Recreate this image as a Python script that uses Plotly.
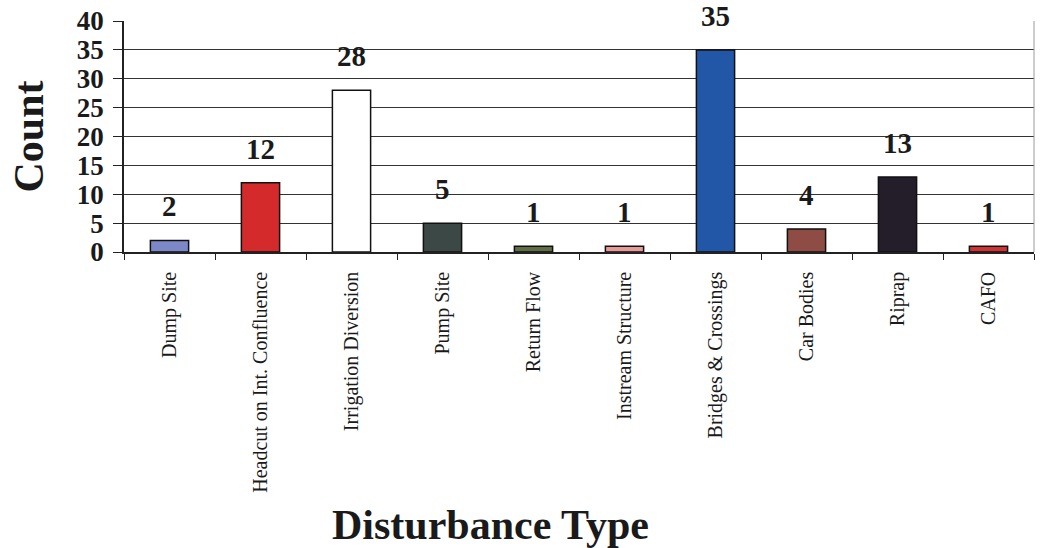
import plotly.graph_objects as go

categories = ["Dump Site", "Headcut on Int. Confluence", "Irrigation Diversion",
              "Pump Site", "Return Flow", "Instream Structure",
              "Bridges & Crossings", "Car Bodies", "Riprap", "CAFO"]
counts = [2, 12, 28, 5, 1, 1, 35, 4, 13, 1]
bar_colors = ["#7d88c8", "#d42a2c", "#ffffff", "#3c4846", "#5f6e45",
              "#e8999a", "#2257a8", "#8e4c45", "#241e2a", "#cf3333"]
y_ticks = [0, 5, 10, 15, 20, 25, 30, 35, 40]

SERIF = "Liberation Serif, Times New Roman, serif"

fig = go.Figure(go.Bar(
    x=categories,
    y=counts,
    width=0.42,
    marker=dict(color=bar_colors, line=dict(color="#111111", width=1.5)),
    hoverinfo="x+y",
))

# value labels above each bar
for cat, val in zip(categories, counts):
    fig.add_annotation(x=cat, y=val, text=f"<b>{val}</b>", showarrow=False,
                       yanchor="bottom", yshift=16,
                       font=dict(family=SERIF, size=29, color="#1a1a1a"))

# axis titles
fig.add_annotation(text="<b>Count</b>", xref="paper", yref="paper",
                   x=0, y=0.5, xanchor="center", yanchor="middle",
                   xshift=-96, textangle=-90, showarrow=False,
                   font=dict(family=SERIF, size=42, color="#1a1a1a"))
fig.add_annotation(text="<b>Disturbance Type</b>", xref="paper", yref="paper",
                   x=0, y=0, xanchor="center", yanchor="middle",
                   xshift=366, yshift=-273, showarrow=False,
                   font=dict(family=SERIF, size=42, color="#1a1a1a"))

fig.update_layout(
    width=1045, height=548,
    margin=dict(l=124, r=11, t=21, b=296, autoexpand=False),
    paper_bgcolor="white", plot_bgcolor="white",
    showlegend=False,
)
fig.update_xaxes(
    type="category",
    automargin=False,
    tickangle=-90,
    tickfont=dict(family=SERIF, size=20, color="#1a1a1a"),
    ticks="outside", ticklen=6, tickcolor="#222222", tickwidth=1.2,
    tickson="boundaries",
    ticklabelstandoff=10,
    showline=True, linecolor="#222222", linewidth=1.5,
    showgrid=False,
)
fig.update_yaxes(
    range=[0, 40],
    automargin=False,
    tickvals=y_ticks,
    ticktext=[f"<b>{v}</b>" for v in y_ticks],
    tickfont=dict(family=SERIF, size=27, color="#1a1a1a"),
    ticks="outside", ticklen=9, tickcolor="#222222", tickwidth=1.2,
    ticklabelstandoff=4,
    showline=True, linecolor="#222222", linewidth=1.5,
    showgrid=True, gridcolor="#333333", gridwidth=1.2,
    zeroline=False,
)
# faint right-hand frame edge
fig.add_shape(type="line", xref="paper", yref="paper", x0=1, x1=1, y0=0, y1=1,
              line=dict(color="#9a9a9a", width=1))

fig.write_html("out.html")
